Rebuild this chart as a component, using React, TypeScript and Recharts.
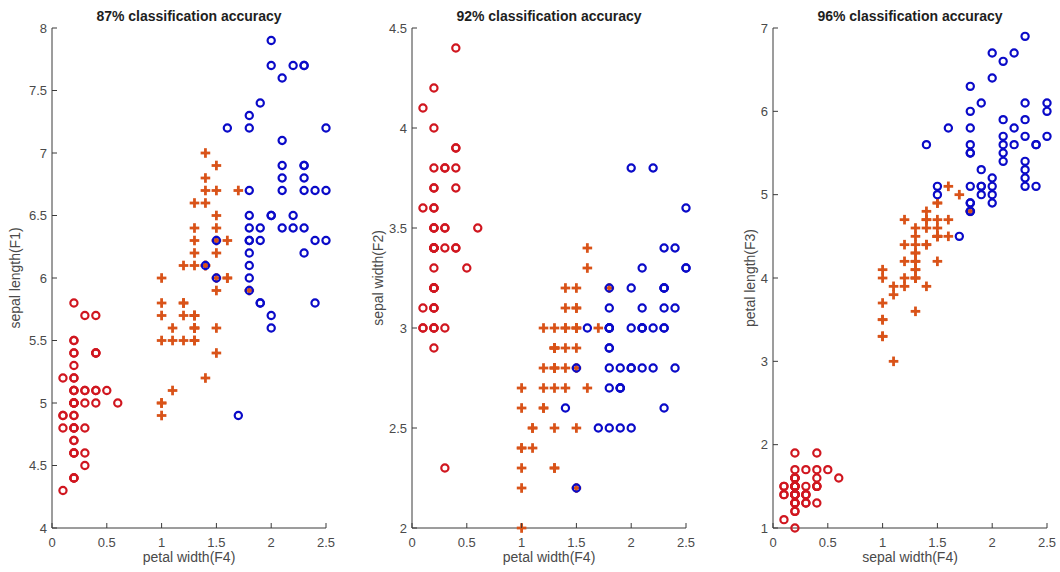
import React from "react";
import { Scatter, ScatterChart, XAxis, YAxis } from "recharts";

// rows: [sepal length, sepal width, petal length, petal width]
const setosa: number[][] = [
  [5.1, 3.5, 1.4, 0.2], [4.9, 3.0, 1.4, 0.2], [4.7, 3.2, 1.3, 0.2], [4.6, 3.1, 1.5, 0.2],
  [5.0, 3.6, 1.4, 0.2], [5.4, 3.9, 1.7, 0.4], [4.6, 3.4, 1.4, 0.3], [5.0, 3.4, 1.5, 0.2],
  [4.4, 2.9, 1.4, 0.2], [4.9, 3.1, 1.5, 0.1], [5.4, 3.7, 1.5, 0.2], [4.8, 3.4, 1.6, 0.2],
  [4.8, 3.0, 1.4, 0.1], [4.3, 3.0, 1.1, 0.1], [5.8, 4.0, 1.2, 0.2], [5.7, 4.4, 1.5, 0.4],
  [5.4, 3.9, 1.3, 0.4], [5.1, 3.5, 1.4, 0.3], [5.7, 3.8, 1.7, 0.3], [5.1, 3.8, 1.5, 0.3],
  [5.4, 3.4, 1.7, 0.2], [5.1, 3.7, 1.5, 0.4], [4.6, 3.6, 1.0, 0.2], [5.1, 3.3, 1.7, 0.5],
  [4.8, 3.4, 1.9, 0.2], [5.0, 3.0, 1.6, 0.2], [5.0, 3.4, 1.6, 0.4], [5.2, 3.5, 1.5, 0.2],
  [5.2, 3.4, 1.4, 0.2], [4.7, 3.2, 1.6, 0.2], [4.8, 3.1, 1.6, 0.2], [5.4, 3.4, 1.5, 0.4],
  [5.2, 4.1, 1.5, 0.1], [5.5, 4.2, 1.4, 0.2], [4.9, 3.1, 1.5, 0.2], [5.0, 3.2, 1.2, 0.2],
  [5.5, 3.5, 1.3, 0.2], [4.9, 3.6, 1.4, 0.1], [4.4, 3.0, 1.3, 0.2], [5.1, 3.4, 1.5, 0.2],
  [5.0, 3.5, 1.3, 0.3], [4.5, 2.3, 1.3, 0.3], [4.4, 3.2, 1.3, 0.2], [5.0, 3.5, 1.6, 0.6],
  [5.1, 3.8, 1.9, 0.4], [4.8, 3.0, 1.4, 0.3], [5.1, 3.8, 1.6, 0.2], [4.6, 3.2, 1.4, 0.2],
  [5.3, 3.7, 1.5, 0.2], [5.0, 3.3, 1.4, 0.2],
];

const versicolor: number[][] = [
  [7.0, 3.2, 4.7, 1.4], [6.4, 3.2, 4.5, 1.5], [6.9, 3.1, 4.9, 1.5], [5.5, 2.3, 4.0, 1.3],
  [6.5, 2.8, 4.6, 1.5], [5.7, 2.8, 4.5, 1.3], [6.3, 3.3, 4.7, 1.6], [4.9, 2.4, 3.3, 1.0],
  [6.6, 2.9, 4.6, 1.3], [5.2, 2.7, 3.9, 1.4], [5.0, 2.0, 3.5, 1.0], [5.9, 3.0, 4.2, 1.5],
  [6.0, 2.2, 4.0, 1.0], [6.1, 2.9, 4.7, 1.4], [5.6, 2.9, 3.6, 1.3], [6.7, 3.1, 4.4, 1.4],
  [5.6, 3.0, 4.5, 1.5], [5.8, 2.7, 4.1, 1.0], [6.2, 2.2, 4.5, 1.5], [5.6, 2.5, 3.9, 1.1],
  [5.9, 3.2, 4.8, 1.8], [6.1, 2.8, 4.0, 1.3], [6.3, 2.5, 4.9, 1.5], [6.1, 2.8, 4.7, 1.2],
  [6.4, 2.9, 4.3, 1.3], [6.6, 3.0, 4.4, 1.4], [6.8, 2.8, 4.8, 1.4], [6.7, 3.0, 5.0, 1.7],
  [6.0, 2.9, 4.5, 1.5], [5.7, 2.6, 3.5, 1.0], [5.5, 2.4, 3.8, 1.1], [5.5, 2.4, 3.7, 1.0],
  [5.8, 2.7, 3.9, 1.2], [6.0, 2.7, 5.1, 1.6], [5.4, 3.0, 4.5, 1.5], [6.0, 3.4, 4.5, 1.6],
  [6.7, 3.1, 4.7, 1.5], [6.3, 2.3, 4.4, 1.3], [5.6, 3.0, 4.1, 1.3], [5.5, 2.5, 4.0, 1.3],
  [5.5, 2.6, 4.4, 1.2], [6.1, 3.0, 4.6, 1.4], [5.8, 2.6, 4.0, 1.2], [5.0, 2.3, 3.3, 1.0],
  [5.6, 2.7, 4.2, 1.3], [5.7, 3.0, 4.2, 1.2], [5.7, 2.9, 4.2, 1.3], [6.2, 2.9, 4.3, 1.3],
  [5.1, 2.5, 3.0, 1.1], [5.7, 2.8, 4.1, 1.3],
];

const virginica: number[][] = [
  [6.3, 3.3, 6.0, 2.5], [5.8, 2.7, 5.1, 1.9], [7.1, 3.0, 5.9, 2.1], [6.3, 2.9, 5.6, 1.8],
  [6.5, 3.0, 5.8, 2.2], [7.6, 3.0, 6.6, 2.1], [4.9, 2.5, 4.5, 1.7], [7.3, 2.9, 6.3, 1.8],
  [6.7, 2.5, 5.8, 1.8], [7.2, 3.6, 6.1, 2.5], [6.5, 3.2, 5.1, 2.0], [6.4, 2.7, 5.3, 1.9],
  [6.8, 3.0, 5.5, 2.1], [5.7, 2.5, 5.0, 2.0], [5.8, 2.8, 5.1, 2.4], [6.4, 3.2, 5.3, 2.3],
  [6.5, 3.0, 5.5, 1.8], [7.7, 3.8, 6.7, 2.2], [7.7, 2.6, 6.9, 2.3], [6.0, 2.2, 5.0, 1.5],
  [6.9, 3.2, 5.7, 2.3], [5.6, 2.8, 4.9, 2.0], [7.7, 2.8, 6.7, 2.0], [6.3, 2.7, 4.9, 1.8],
  [6.7, 3.3, 5.7, 2.1], [7.2, 3.2, 6.0, 1.8], [6.2, 2.8, 4.8, 1.8], [6.1, 3.0, 4.9, 1.8],
  [6.4, 2.8, 5.6, 2.1], [7.2, 3.0, 5.8, 1.6], [7.4, 2.8, 6.1, 1.9], [7.9, 3.8, 6.4, 2.0],
  [6.4, 2.8, 5.6, 2.2], [6.3, 2.8, 5.1, 1.5], [6.1, 2.6, 5.6, 1.4], [7.7, 3.0, 6.1, 2.3],
  [6.3, 3.4, 5.6, 2.4], [6.4, 3.1, 5.5, 1.8], [6.0, 3.0, 4.8, 1.8], [6.9, 3.1, 5.4, 2.1],
  [6.7, 3.1, 5.6, 2.4], [6.9, 3.1, 5.1, 2.3], [5.8, 2.7, 5.1, 1.9], [6.8, 3.2, 5.9, 2.3],
  [6.7, 3.3, 5.7, 2.5], [6.7, 3.0, 5.2, 2.3], [6.3, 2.5, 5.0, 1.9], [6.5, 3.0, 5.2, 2.0],
  [6.2, 3.4, 5.4, 2.3], [5.9, 3.0, 5.1, 1.8],
];

const titles = [
  "87% classification accuracy",
  "92% classification accuracy",
  "96% classification accuracy",
];
const xLabels = ["petal width(F4)", "petal width(F4)", "sepal width(F4)"];
const yLabels = ["sepal length(F1)", "sepal width(F2)", "petal length(F3)"];
const yFeature = [0, 1, 2];
const xTicks = [0, 0.5, 1, 1.5, 2, 2.5];
const yTicks = [
  [4, 4.5, 5, 5.5, 6, 6.5, 7, 7.5, 8],
  [2, 2.5, 3, 3.5, 4, 4.5],
  [1, 2, 3, 4, 5, 6, 7],
];

const panelLeft = [0, 360, 721];
const yLabelX = [15, 18, 29];

const AXIS = "#3a3a3a";
const TEXT = "#4a4a4a";
const FONT = "'Liberation Sans', Arial, sans-serif";
const RED = "#d0161f";
const ORANGE = "#d95319";
const BLUE = "#0a0ac8";

const CircleMark = (color: string) => (p: any) =>
  <circle cx={p.cx} cy={p.cy} r={3.6} fill="none" stroke={color} strokeWidth={2.2} />;

const PlusMark = (p: any) => (
  <g stroke={ORANGE} strokeWidth={2.8}>
    <line x1={p.cx - 4.8} x2={p.cx + 4.8} y1={p.cy} y2={p.cy} />
    <line x1={p.cx} x2={p.cx} y1={p.cy - 4.8} y2={p.cy + 4.8} />
  </g>
);

function XTick({ x, y, payload }: any) {
  return (
    <g>
      <line x1={x} x2={x} y1={y} y2={y - 5} stroke={AXIS} />
      <text x={x} y={y + 19} textAnchor="middle" fill={TEXT} fontSize={13} fontFamily={FONT}>
        {payload.value}
      </text>
    </g>
  );
}

function YTick({ x, y, payload }: any) {
  return (
    <g>
      <line x1={x} x2={x + 5} y1={y} y2={y} stroke={AXIS} />
      <text x={x - 5} y={y + 4.5} textAnchor="end" fill={TEXT} fontSize={13} fontFamily={FONT}>
        {payload.value}
      </text>
    </g>
  );
}

function Panel({ i }: { i: number }) {
  const f = yFeature[i];
  const pts = (rows: number[][]) => rows.map((r) => ({ x: r[3], y: r[f] }));
  const ticks = yTicks[i];
  return (
    <div style={{ position: "absolute", left: panelLeft[i], top: 0, width: 338, height: 572 }}>
      <div
        style={{
          position: "absolute",
          left: 52,
          width: 274,
          top: 8,
          textAlign: "center",
          fontFamily: FONT,
          fontWeight: 700,
          fontSize: 14,
          color: "#1e1e1e",
        }}
      >
        {titles[i]}
      </div>
      <ScatterChart width={338} height={572} margin={{ top: 28, right: 12, bottom: 26, left: 0 }}>
        <XAxis
          dataKey="x"
          type="number"
          domain={[0, 2.5]}
          ticks={xTicks}
          height={18}
          tickSize={0}
          tickMargin={0}
          tickLine={false}
          tick={<XTick />}
          axisLine={{ stroke: AXIS }}
          label={{
            value: xLabels[i],
            position: "bottom",
            offset: 6,
            fill: TEXT,
            fontSize: 14,
            fontFamily: FONT,
          }}
        />
        <YAxis
          dataKey="y"
          type="number"
          domain={[ticks[0], ticks[ticks.length - 1]]}
          ticks={ticks}
          width={52}
          tickSize={0}
          tickMargin={0}
          tickLine={false}
          tick={<YTick />}
          axisLine={{ stroke: AXIS }}
          label={{
            value: yLabels[i],
            angle: -90,
            position: "insideLeft",
            offset: yLabelX[i],
            fill: TEXT,
            fontSize: 14,
            fontFamily: FONT,
            style: { textAnchor: "middle" },
          }}
        />
        <Scatter data={pts(setosa)} shape={CircleMark(RED)} isAnimationActive={false} />
        <Scatter data={pts(versicolor)} shape={PlusMark} isAnimationActive={false} />
        <Scatter data={pts(virginica)} shape={CircleMark(BLUE)} isAnimationActive={false} />
      </ScatterChart>
    </div>
  );
}

export default function App() {
  return (
    <div
      style={{
        position: "absolute",
        left: 0,
        top: 0,
        width: 1060,
        height: 572,
        background: "#fff",
        overflow: "hidden",
      }}
    >
      {[0, 1, 2].map((i) => (
        <Panel key={i} i={i} />
      ))}
    </div>
  );
}
